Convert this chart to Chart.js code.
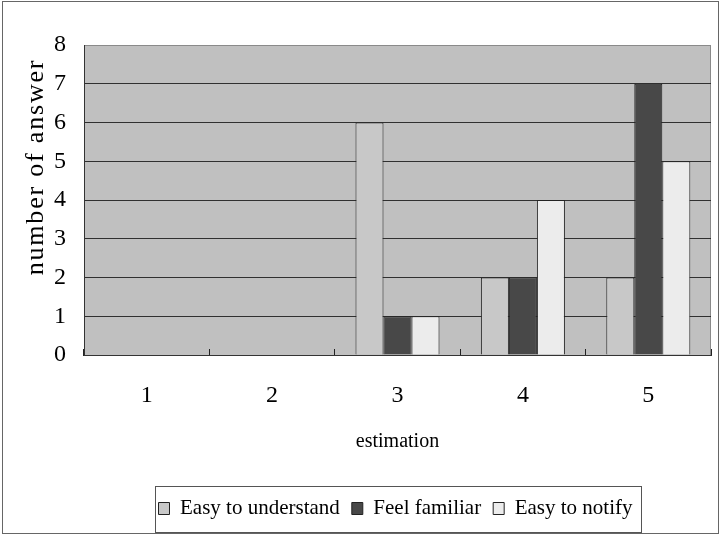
<!DOCTYPE html>
<html>
<head>
<meta charset="utf-8">
<script src="https://cdn.jsdelivr.net/npm/chart.js@4.4.1/dist/chart.umd.min.js"></script>
<style>
  html, body { margin: 0; padding: 0; background: #fff; }
  #wrap { width: 720px; height: 535px; }
</style>
</head>
<body>
<div id="wrap"><canvas id="chart" width="720" height="535"></canvas></div>
<script>
// data
const estimations = ['1', '2', '3', '4', '5'];
const easyToUnderstand = [0, 0, 6, 2, 2];
const feelFamiliar = [0, 0, 1, 2, 7];
const easyToNotify = [0, 0, 1, 4, 5];
const yMin = 0, yMax = 8, yStep = 1;

Chart.defaults.font.family = "'Liberation Serif', 'Times New Roman', serif";
Chart.defaults.color = '#000';

// y scale whose title sits a bit higher and is spaced out like the original
class ShiftedTitleScale extends Chart.LinearScale {
    drawTitle() {
        const ctx = this.ctx;
        ctx.save();
        ctx.translate(0, -33);
        ctx.letterSpacing = '1.8px';
        super.drawTitle();
        ctx.restore();
    }
}
ShiftedTitleScale.id = 'shiftedTitle';
ShiftedTitleScale.defaults = {};
Chart.register(ShiftedTitleScale);

const LEGEND_SHIFT = 40;

const frames = {
    id: 'frames',
    beforeDraw(chart) {
        const { ctx, chartArea: a } = chart;
        ctx.save();
        ctx.fillStyle = '#fff';
        ctx.fillRect(0, 0, chart.width, chart.height);
        ctx.fillStyle = '#c0c0c0';
        ctx.fillRect(a.left, a.top, a.right - a.left, a.bottom - a.top);
        ctx.strokeStyle = '#8a8a8a';
        ctx.lineWidth = 1;
        ctx.strokeRect(a.left + 0.5, a.top + 0.5, a.right - a.left - 1, a.bottom - a.top);
        ctx.restore();
    },
    afterLayout(chart) {
        // legend in the original is centred a bit right of the canvas middle
        chart.legend.left += LEGEND_SHIFT;
        chart.legend.right += LEGEND_SHIFT;
    },
    afterDraw(chart) {
        const ctx = chart.ctx;
        const lg = chart.legend;
        const hb = lg.legendHitBoxes;
        const x0 = Math.min(...hb.map(b => b.left)) - 4;
        const x1 = Math.max(...hb.map(b => b.left + b.width)) + 8;
        ctx.save();
        ctx.strokeStyle = '#555';
        ctx.lineWidth = 1;
        ctx.strokeRect(Math.round(x0) + 0.5, Math.round(lg.top) + 0.5, Math.round(x1 - x0), 46);
        ctx.strokeStyle = '#666';
        ctx.strokeRect(2.5, 1.5, chart.width - 4, chart.height - 3);
        ctx.restore();
    }
};

new Chart(document.getElementById('chart'), {
    type: 'bar',
    data: {
        labels: estimations,
        datasets: [
            { label: 'Easy to understand', data: easyToUnderstand, backgroundColor: '#c8c8c8', borderColor: '#222', borderWidth: 1 },
            { label: 'Feel familiar', data: feelFamiliar, backgroundColor: '#484848', borderColor: '#222', borderWidth: 1 },
            { label: 'Easy to notify', data: easyToNotify, backgroundColor: '#ececec', borderColor: '#222', borderWidth: 1 }
        ]
    },
    options: {
        responsive: false,
        animation: false,
        layout: { padding: { top: 45, right: 9, bottom: 6, left: 0 } },
        datasets: { bar: { categoryPercentage: 0.67, barPercentage: 1.0 } },
        plugins: {
            legend: {
                position: 'bottom',
                labels: {
                    boxWidth: 11,
                    boxHeight: 12,
                    padding: 12,
                    font: { size: 21 },
                    color: '#000'
                }
            },
            tooltip: { enabled: false }
        },
        scales: {
            x: {
                grid: { offset: true, drawOnChartArea: false, drawTicks: true, tickLength: -6, color: '#222' },
                border: { color: '#333' },
                ticks: { font: { size: 24 }, padding: 32 },
                title: { display: true, text: 'estimation', font: { size: 20 }, padding: { top: 20, bottom: 32 } },
                afterFit: s => { s.height = 131; }
            },
            y: {
                type: 'shiftedTitle',
                min: yMin,
                max: yMax,
                ticks: { stepSize: yStep, font: { size: 24 }, padding: 18 },
                grid: { drawTicks: false, color: c => c.tick && c.tick.value === yMax ? '#8a8a8a' : '#303030' },
                border: { color: '#333' },
                title: { display: true, text: 'number of answer', font: { size: 26 }, padding: { top: 21, bottom: 0 } },
                afterFit: s => { s.width = 84; }
            }
        }
    },
    plugins: [frames]
});
</script>
</body>
</html>
